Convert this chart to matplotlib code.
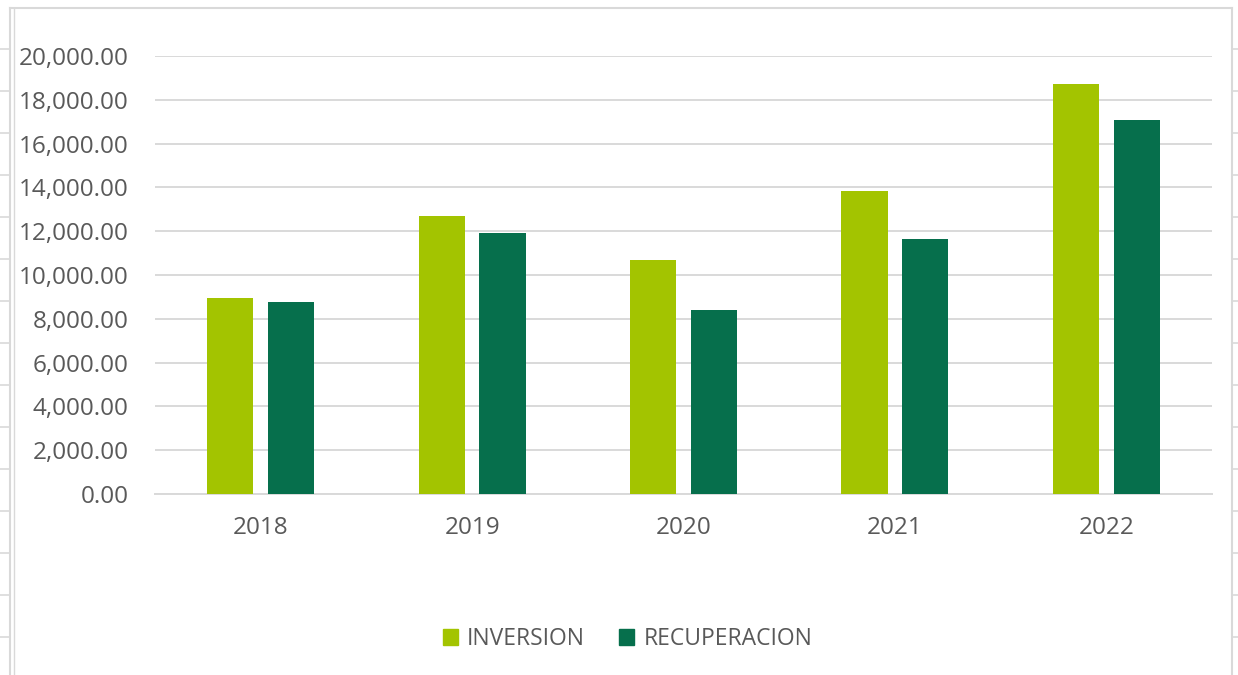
import matplotlib.pyplot as plt
import numpy as np
from matplotlib.lines import Line2D
from matplotlib.patches import Patch
from matplotlib.ticker import FuncFormatter

years = ['2018', '2019', '2020', '2021', '2022']
inversion = [8960, 12700, 10690, 13840, 18710]
recuperacion = [8780, 11920, 8400, 11640, 17080]

W, H = 1238, 675
green_light = '#A3C400'
green_dark = '#066F4C'
grid_col = '#D9D9D9'
text_col = '#595959'

plt.rcParams['font.family'] = ['Open Sans', 'DejaVu Sans']

fig = plt.figure(figsize=(W / 100, H / 100), dpi=100)
fig.patch.set_facecolor('white')

# plot area in pixel coords of the reference
left, right, bottom, top = 155, 1212, 494, 56
ax = fig.add_axes([left / W, 1 - bottom / H, (right - left) / W, (bottom - top) / H])

index = np.arange(len(years))
bar_w = 0.218
off = 0.144
ax.bar(index - off, inversion, bar_w, color=green_light, label='INVERSION', zorder=3)
ax.bar(index + off, recuperacion, bar_w, color=green_dark, label='RECUPERACION', zorder=3)

ax.set_xlim(-0.5, len(years) - 0.5)
ax.set_ylim(0, 20000)
ax.set_yticks(np.arange(0, 20001, 2000))
ax.yaxis.set_major_formatter(FuncFormatter(lambda v, p: f'{v:,.2f}'))
ax.set_xticks(index)
ax.set_xticklabels(years)

ax.grid(axis='y', color=grid_col, linewidth=1.4, zorder=0)
ax.set_axisbelow(True)
for s in ['top', 'right', 'left']:
    ax.spines[s].set_visible(False)
ax.spines['bottom'].set_color(grid_col)
ax.spines['bottom'].set_linewidth(1.4)
ax.tick_params(axis='both', length=0, labelsize=17.5, colors=text_col)
ax.tick_params(axis='y', pad=19)
ax.tick_params(axis='x', pad=16)

handles = [Patch(color=green_light, label='INVERSION'),
           Patch(color=green_dark, label='RECUPERACION')]
leg = fig.legend(handles=handles, loc='center', bbox_to_anchor=(0.507, 1 - 639 / H),
                 ncol=2, frameon=False, fontsize=16.5, handlelength=0.65, handleheight=0.65,
                 handletextpad=0.4, columnspacing=1.5)
for t in leg.get_texts():
    t.set_color(text_col)

# frame of the surrounding sheet
def px_line(x0, y0, x1, y1, lw=1.5):
    fig.add_artist(Line2D([x0 / W, x1 / W], [1 - y0 / H, 1 - y1 / H],
                          color=grid_col, linewidth=lw, transform=fig.transFigure))

px_line(10, 8, 1232, 8)
px_line(10, 8, 10, H)
px_line(13.5, 8, 13.5, H, lw=1)
px_line(1232, 8, 1232, H)
for yy in range(49, H, 42):
    px_line(0, yy, 10, yy, lw=1.2)
    px_line(1232, yy, W, yy, lw=1.2)

fig.savefig('out.png', dpi=100)
